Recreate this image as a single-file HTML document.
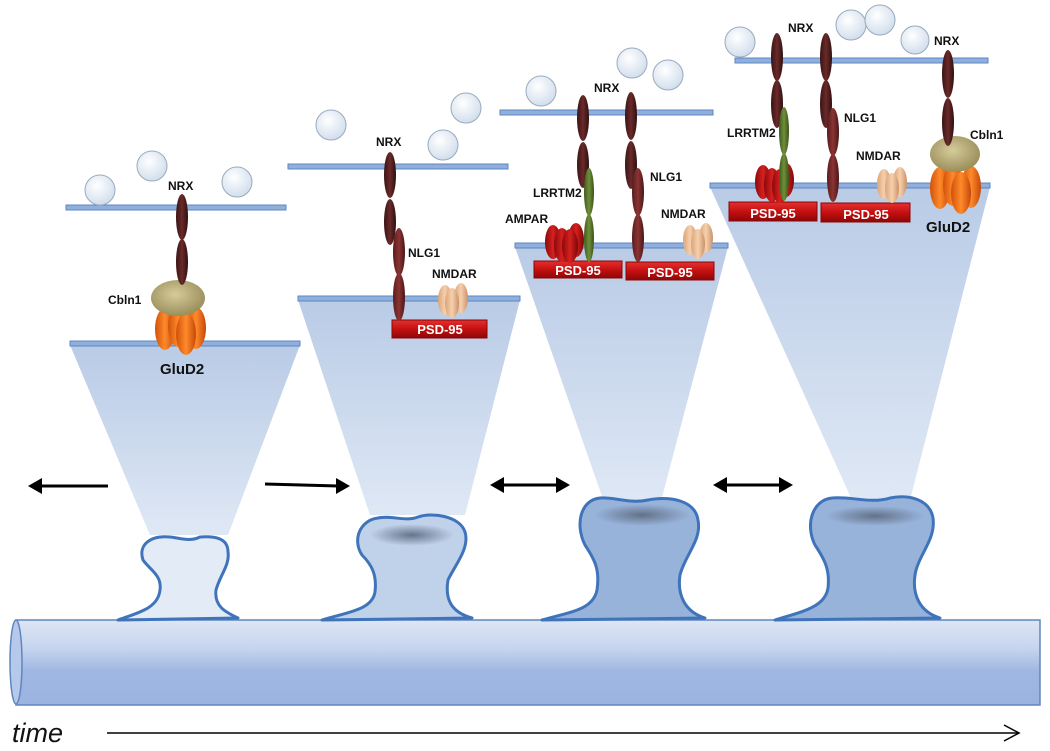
<!DOCTYPE html>
<html><head><meta charset="utf-8"><style>
html,body{margin:0;padding:0;background:#fff;}
svg{display:block;}
text{font-family:"Liberation Sans",sans-serif;font-weight:bold;fill:#111;}
</style></head><body>
<svg width="1050" height="751" viewBox="0 0 1050 751" xmlns="http://www.w3.org/2000/svg">
<defs>
<linearGradient id="cone" x1="0" y1="0" x2="0" y2="1">
<stop offset="0" stop-color="#b9cbe6"/><stop offset="1" stop-color="#dfe8f5"/></linearGradient>
<linearGradient id="dend" x1="0" y1="0" x2="0" y2="1">
<stop offset="0" stop-color="#dde6f4"/><stop offset="0.35" stop-color="#c4d3ee"/><stop offset="0.6" stop-color="#9fb7e2"/><stop offset="1" stop-color="#9ab3e0"/></linearGradient>
<radialGradient id="ves" cx="0.4" cy="0.35" r="0.7"><stop offset="0" stop-color="#ffffff"/><stop offset="1" stop-color="#cfdcec"/></radialGradient>
<linearGradient id="nrx" x1="0" x2="1"><stop offset="0" stop-color="#3a1414"/><stop offset="0.5" stop-color="#6a2a2a"/><stop offset="1" stop-color="#2e1010"/></linearGradient>
<linearGradient id="nlg" x1="0" x2="1"><stop offset="0" stop-color="#5a1c1c"/><stop offset="0.5" stop-color="#8a3434"/><stop offset="1" stop-color="#4a1616"/></linearGradient>
<linearGradient id="lrr" x1="0" x2="1"><stop offset="0" stop-color="#3e5a1c"/><stop offset="0.5" stop-color="#6f8f3a"/><stop offset="1" stop-color="#3a521a"/></linearGradient>
<linearGradient id="org" x1="0" x2="1"><stop offset="0" stop-color="#d2520a"/><stop offset="0.5" stop-color="#ff8a2a"/><stop offset="1" stop-color="#c4480a"/></linearGradient>
<linearGradient id="red" x1="0" x2="1"><stop offset="0" stop-color="#8a0a0a"/><stop offset="0.5" stop-color="#d62020"/><stop offset="1" stop-color="#7a0808"/></linearGradient>
<linearGradient id="tan" x1="0" x2="1"><stop offset="0" stop-color="#d9a57a"/><stop offset="0.5" stop-color="#f6d0ac"/><stop offset="1" stop-color="#c99268"/></linearGradient>
<radialGradient id="cb" cx="0.45" cy="0.4" r="0.6"><stop offset="0" stop-color="#d6cc9a"/><stop offset="1" stop-color="#9a8e5a"/></radialGradient>
<linearGradient id="psd" x1="0" y1="0" x2="0" y2="1"><stop offset="0" stop-color="#e63030"/><stop offset="0.5" stop-color="#c41010"/><stop offset="1" stop-color="#8e0606"/></linearGradient>
<radialGradient id="dark" cx="0.5" cy="0.5" r="0.5"><stop offset="0" stop-color="#5d6a80" stop-opacity="0.9"/><stop offset="1" stop-color="#5d6a80" stop-opacity="0"/></radialGradient>
</defs>

<!-- cones -->
<polygon points="70,345 300,345 228,535 150,535" fill="url(#cone)"/>
<polygon points="298,300 520,300 465,515 370,515" fill="url(#cone)"/>
<polygon points="515,247 728,247 660,505 605,505" fill="url(#cone)"/>
<polygon points="710,187 990,187 910,500 852,500" fill="url(#cone)"/>

<!-- membranes -->
<g fill="#8fb0dc" stroke="#5f86bf" stroke-width="1">
<rect x="66" y="205" width="220" height="5"/>
<rect x="70" y="341" width="230" height="5"/>
<rect x="288" y="164" width="220" height="5"/>
<rect x="298" y="296" width="222" height="5"/>
<rect x="500" y="110" width="213" height="5"/>
<rect x="515" y="243" width="213" height="5"/>
<rect x="735" y="58" width="253" height="5"/>
<rect x="710" y="183" width="280" height="5"/>
</g>

<!-- vesicles -->
<g fill="url(#ves)" stroke="#9aaabd" stroke-width="1">
<circle cx="100" cy="190" r="15"/><circle cx="152" cy="166" r="15"/><circle cx="237" cy="182" r="15"/>
<circle cx="331" cy="125" r="15"/><circle cx="443" cy="145" r="15"/><circle cx="466" cy="108" r="15"/>
<circle cx="541" cy="91" r="15"/><circle cx="632" cy="63" r="15"/><circle cx="668" cy="75" r="15"/>
<circle cx="740" cy="42" r="15"/><circle cx="851" cy="25" r="15"/><circle cx="880" cy="20" r="15"/><circle cx="915" cy="40" r="14"/>
</g>

<!-- PSD-95 boxes -->
<g fill="url(#psd)" stroke="#8a0505">
<rect x="392" y="320" width="95" height="18"/>
<rect x="534" y="261" width="88" height="17"/>
<rect x="626" y="262" width="88" height="18"/>
<rect x="729" y="202" width="88" height="19"/>
<rect x="821" y="203" width="89" height="19"/>
</g>
<g font-size="13" text-anchor="middle">
<text x="440" y="334" style="fill:#fff">PSD-95</text>
<text x="578" y="275" style="fill:#fff">PSD-95</text>
<text x="670" y="277" style="fill:#fff">PSD-95</text>
<text x="773" y="218" style="fill:#fff">PSD-95</text>
<text x="866" y="219" style="fill:#fff">PSD-95</text>
</g>

<!-- Panel 1 -->
<ellipse cx="165" cy="329" rx="10" ry="21" fill="url(#org)"/>
<ellipse cx="178" cy="326" rx="10" ry="21" fill="url(#org)"/>
<ellipse cx="196" cy="328" rx="10" ry="21" fill="url(#org)"/>
<ellipse cx="186" cy="334" rx="10" ry="21" fill="url(#org)"/>
<ellipse cx="178" cy="298" rx="27" ry="18" fill="url(#cb)"/>
<ellipse cx="182" cy="217" rx="6" ry="23" fill="url(#nrx)"/>
<ellipse cx="182" cy="262" rx="6" ry="23" fill="url(#nrx)"/>

<!-- Panel 2 -->
<ellipse cx="390" cy="175" rx="6" ry="23" fill="url(#nrx)"/>
<ellipse cx="390" cy="222" rx="6" ry="23" fill="url(#nrx)"/>
<ellipse cx="399" cy="252" rx="6" ry="24" fill="url(#nlg)"/>
<ellipse cx="399" cy="297" rx="6" ry="24" fill="url(#nlg)"/>
<ellipse cx="445" cy="300" rx="7" ry="15" fill="url(#tan)"/>
<ellipse cx="461" cy="298" rx="7" ry="15" fill="url(#tan)"/>
<ellipse cx="452" cy="303" rx="7" ry="15" fill="url(#tan)"/>

<!-- Panel 3 -->
<ellipse cx="553" cy="242" rx="8" ry="17" fill="url(#red)"/>
<ellipse cx="576" cy="240" rx="8" ry="17" fill="url(#red)"/>
<ellipse cx="562" cy="245" rx="8" ry="17" fill="url(#red)"/>
<ellipse cx="570" cy="246" rx="8" ry="17" fill="url(#red)"/>
<ellipse cx="583" cy="118" rx="6" ry="23" fill="url(#nrx)"/>
<ellipse cx="583" cy="165" rx="6" ry="23" fill="url(#nrx)"/>
<ellipse cx="589" cy="192" rx="5" ry="24" fill="url(#lrr)"/>
<ellipse cx="589" cy="238" rx="5" ry="24" fill="url(#lrr)"/>
<ellipse cx="631" cy="116" rx="6" ry="24" fill="url(#nrx)"/>
<ellipse cx="631" cy="165" rx="6" ry="24" fill="url(#nrx)"/>
<ellipse cx="638" cy="192" rx="6" ry="24" fill="url(#nlg)"/>
<ellipse cx="638" cy="238" rx="6" ry="24" fill="url(#nlg)"/>
<ellipse cx="690" cy="240" rx="7" ry="15" fill="url(#tan)"/>
<ellipse cx="706" cy="238" rx="7" ry="15" fill="url(#tan)"/>
<ellipse cx="698" cy="244" rx="7" ry="15" fill="url(#tan)"/>

<!-- Panel 4 -->
<ellipse cx="763" cy="182" rx="8" ry="17" fill="url(#red)"/>
<ellipse cx="786" cy="180" rx="8" ry="17" fill="url(#red)"/>
<ellipse cx="772" cy="185" rx="8" ry="17" fill="url(#red)"/>
<ellipse cx="780" cy="186" rx="8" ry="17" fill="url(#red)"/>
<ellipse cx="777" cy="57" rx="6" ry="24" fill="url(#nrx)"/>
<ellipse cx="777" cy="104" rx="6" ry="24" fill="url(#nrx)"/>
<ellipse cx="784" cy="131" rx="5" ry="24" fill="url(#lrr)"/>
<ellipse cx="784" cy="177" rx="5" ry="24" fill="url(#lrr)"/>
<ellipse cx="826" cy="57" rx="6" ry="24" fill="url(#nrx)"/>
<ellipse cx="826" cy="104" rx="6" ry="24" fill="url(#nrx)"/>
<ellipse cx="833" cy="132" rx="6" ry="24" fill="url(#nlg)"/>
<ellipse cx="833" cy="178" rx="6" ry="24" fill="url(#nlg)"/>
<ellipse cx="884" cy="184" rx="7" ry="15" fill="url(#tan)"/>
<ellipse cx="900" cy="182" rx="7" ry="15" fill="url(#tan)"/>
<ellipse cx="892" cy="188" rx="7" ry="15" fill="url(#tan)"/>
<ellipse cx="940" cy="188" rx="10" ry="21" fill="url(#org)"/>
<ellipse cx="953" cy="185" rx="10" ry="21" fill="url(#org)"/>
<ellipse cx="971" cy="187" rx="10" ry="21" fill="url(#org)"/>
<ellipse cx="961" cy="193" rx="10" ry="21" fill="url(#org)"/>
<ellipse cx="955" cy="154" rx="25" ry="18" fill="url(#cb)"/>
<ellipse cx="948" cy="74" rx="6" ry="24" fill="url(#nrx)"/>
<ellipse cx="948" cy="122" rx="6" ry="24" fill="url(#nrx)"/>

<!-- labels -->
<g font-size="12">
<text x="168" y="190">NRX</text>
<text x="108" y="304">Cbln1</text>
<text x="160" y="374" font-size="15">GluD2</text>
<text x="376" y="146">NRX</text>
<text x="408" y="257">NLG1</text>
<text x="432" y="278">NMDAR</text>
<text x="594" y="92">NRX</text>
<text x="533" y="197">LRRTM2</text>
<text x="505" y="223">AMPAR</text>
<text x="650" y="181">NLG1</text>
<text x="661" y="218">NMDAR</text>
<text x="788" y="32">NRX</text>
<text x="934" y="45">NRX</text>
<text x="727" y="137">LRRTM2</text>
<text x="844" y="122">NLG1</text>
<text x="856" y="160">NMDAR</text>
<text x="970" y="139">Cbln1</text>
<text x="926" y="232" font-size="15">GluD2</text>
</g>

<!-- dendrite -->
<rect x="16" y="620" width="1024" height="85" fill="url(#dend)" stroke="#5f86bf" stroke-width="1.5"/>
<ellipse cx="16" cy="662" rx="6" ry="42" fill="#b7c9ea" stroke="#5f86bf" stroke-width="1.5"/>

<!-- spines -->
<g stroke="#3f74bb" stroke-width="3" stroke-linejoin="round">
<path d="M118,620 C140,612 158,608 160,590 C162,575 150,570 143,560 C138,545 150,535 170,537 C180,538 190,542 200,537 C215,536 228,538 228,552 C230,565 220,575 216,590 C214,606 225,612 238,618 Z" fill="#e3ebf6"/>
<path d="M322,620 C348,612 372,610 375,592 C377,575 372,565 362,555 C352,540 360,520 378,518 C392,515 405,522 418,517 C432,512 460,516 465,532 C470,548 455,565 448,580 C445,598 450,612 472,618 Z" fill="#c0d1ea"/>
<path d="M542,620 C570,612 593,610 597,590 C600,570 595,560 585,545 C575,525 580,500 600,498 C615,497 630,504 648,500 C670,496 695,500 698,520 C702,540 685,555 680,575 C677,595 685,612 705,618 Z" fill="#98b3da"/>
<path d="M775,620 C800,612 825,608 828,588 C830,570 825,560 815,545 C805,525 812,500 832,498 C850,496 870,504 890,498 C910,494 930,500 933,518 C936,540 918,555 915,575 C912,595 920,612 940,618 Z" fill="#98b3da"/>
</g>
<ellipse cx="412" cy="535" rx="42" ry="11" fill="url(#dark)"/>
<ellipse cx="642" cy="515" rx="48" ry="11" fill="url(#dark)"/>
<ellipse cx="875" cy="516" rx="50" ry="10" fill="url(#dark)"/>

<!-- double arrows -->
<g stroke="#000" stroke-width="3" fill="#000">
<line x1="38" y1="486" x2="108" y2="486"/><polygon points="28,486 42,478 42,494" stroke="none"/>
<line x1="265" y1="484" x2="338" y2="486"/><polygon points="350,486 336,478 336,494" stroke="none"/>
<line x1="500" y1="485" x2="560" y2="485"/><polygon points="490,485 504,477 504,493" stroke="none"/><polygon points="570,485 556,477 556,493" stroke="none"/>
<line x1="723" y1="485" x2="783" y2="485"/><polygon points="713,485 727,477 727,493" stroke="none"/><polygon points="793,485 779,477 779,493" stroke="none"/>
</g>

<!-- time -->
<text x="12" y="742" font-size="27" font-style="italic" style="font-weight:normal">time</text>
<line x1="107" y1="733" x2="1018" y2="733" stroke="#000" stroke-width="1.5"/>
<polyline points="1004,725 1019,733 1004,741" fill="none" stroke="#000" stroke-width="1.5"/>
</svg>
</body></html>
